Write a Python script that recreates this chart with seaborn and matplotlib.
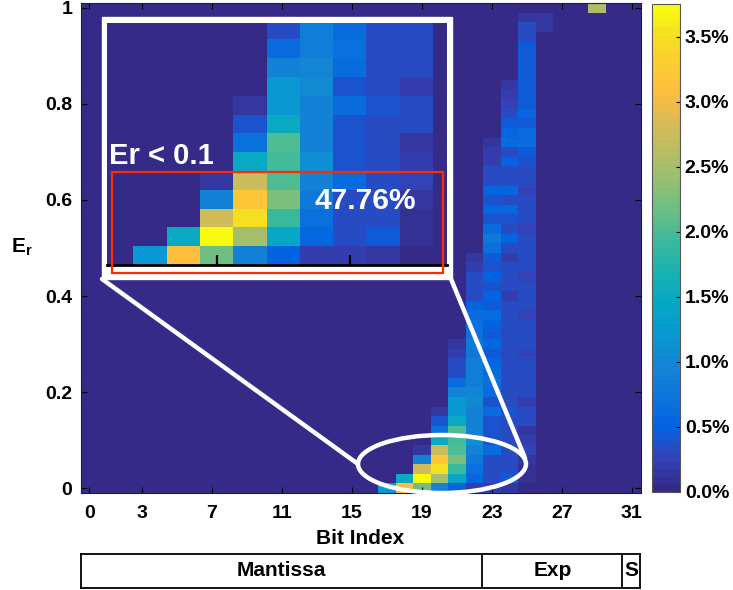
import numpy as np
import pandas as pd
import matplotlib
matplotlib.use('Agg')
import matplotlib.pyplot as plt
import seaborn as sns
from matplotlib.colors import LinearSegmentedColormap
from matplotlib.patches import Rectangle, Ellipse

# E_r bins (0 .. 1 step 0.02) and bit positions of a float32
er_bins = np.round(np.arange(0, 51) * 0.02, 2)
bits = list(range(32))

# percentage of samples per (bit, E_r bin); each list starts at the given row
bit17 = [1.2]
bit18 = [3.1, 1.5]
bit19 = [2.2, 3.75, 2.8, 0.9, 0.15]
bit20 = [0.9, 2.5, 3.5, 3.2, 2.75, 1.5, 0.7, 0.4, 0.15]
bit21 = [0.5, 1.45, 1.9, 2.25, 2.0, 1.95, 2.0, 1.5, 1.2, 1.2, 0.9, 0.6, 0.35, 0.3,
         0.2, 0.15]
bit22 = [0.2, 0.55, 0.65, 0.8, 0.9, 1.1, 0.9, 0.9, 0.9, 1.0, 0.95, 0.85, 0.85, 0.85,
         0.8, 0.8, 0.7, 0.65, 0.6, 0.5, 0.35, 0.35, 0.3, 0.2, 0.15]
bit23 = [0.2, 0.3, 0.3, 0.35, 0.6, 0.4, 0.4, 0.4, 0.6, 0.4, 0.6, 0.7, 0.6, 0.55,
         0.45, 0.55, 0.45, 0.5, 0.6, 0.45, 0.5, 0.4, 0.5, 0.4, 0.45, 0.7, 0.8, 0.6,
         0.4, 0.55, 0.4, 0.55, 0.35, 0.3, 0.2, 0.2, 0.15]
bit24 = [0.15, 0.45, 0.3, 0.3, 0.35, 0.3, 0.3, 0.35, 0.4, 0.3, 0.35, 0.35, 0.3, 0.3,
         0.35, 0.3, 0.3, 0.3, 0.3, 0.35, 0.2, 0.3, 0.3, 0.3, 0.2, 0.35, 0.5, 0.35,
         0.4, 0.55, 0.35, 0.55, 0.3, 0.35, 0.5, 0.3, 0.6, 0.55, 0.45, 0.35, 0.25,
         0.2, 0.15]
bit25 = [0.05, 0.08, 0.1, 0.15, 0.25, 0.2, 0.15, 0.3, 0.35, 0.2, 0.3, 0.3, 0.3, 0.3,
         0.25, 0.3, 0.3, 0.3, 0.25, 0.3, 0.3, 0.3, 0.25, 0.3, 0.35, 0.3, 0.3, 0.25,
         0.3, 0.35, 0.3, 0.25, 0.3, 0.35, 0.4, 0.45, 0.6, 0.6, 0.45, 0.55, 0.45,
         0.45, 0.45, 0.45, 0.45, 0.45, 0.45, 0.35, 0.3, 0.15]
bit26 = [0.15, 0.15]
bit29 = [2.55]

columns = {17: (0, bit17), 18: (0, bit18), 19: (0, bit19), 20: (0, bit20),
           21: (0, bit21), 22: (0, bit22), 23: (0, bit23), 24: (0, bit24),
           25: (0, bit25), 26: (48, bit26), 29: (50, bit29)}

grid = pd.DataFrame(0.0, index=er_bins, columns=bits)
for b, (start, vals) in columns.items():
    grid.iloc[start:start + len(vals), b] = vals

# MATLAB parula (sampled)
parula_pts = [(0.2081, 0.1663, 0.5292), (0.1959, 0.2645, 0.7279), (0.0117, 0.3875, 0.8820),
              (0.0498, 0.4586, 0.8641), (0.0793, 0.5200, 0.8312), (0.0343, 0.5966, 0.8199),
              (0.0228, 0.6535, 0.7768), (0.0843, 0.6928, 0.7062), (0.2178, 0.7250, 0.6193),
              (0.3953, 0.7459, 0.5244), (0.5709, 0.7485, 0.4494), (0.7184, 0.7411, 0.3905),
              (0.8507, 0.7299, 0.3360), (0.9938, 0.7455, 0.2403), (0.9880, 0.8066, 0.1794),
              (0.9589, 0.8949, 0.1132), (0.9763, 0.9831, 0.0538)]
pos = [i * 4 / 63 for i in range(16)] + [1.0]
parula = LinearSegmentedColormap.from_list('parula', list(zip(pos, parula_pts)), N=64)

plt.rcParams['font.family'] = ['Liberation Sans', 'DejaVu Sans']
plt.rcParams['font.weight'] = 'bold'
plt.rcParams['mathtext.fontset'] = 'custom'
plt.rcParams['mathtext.bf'] = 'Liberation Sans:bold'
plt.rcParams['mathtext.rm'] = 'Liberation Sans:bold'

W, H = 733, 590
fig = plt.figure(figsize=(W / 100, H / 100), dpi=100)


def box(x0, y0, x1, y1):
    return [x0 / W, 1 - y1 / H, (x1 - x0) / W, (y1 - y0) / H]


ax = fig.add_axes(box(80.5, 3, 640.5, 493))
cax = fig.add_axes(box(652, 4, 680, 492))
sns.heatmap(grid, ax=ax, cbar_ax=cax, cmap=parula, vmin=0, vmax=3.75,
            xticklabels=False, yticklabels=False)
ax.invert_yaxis()
for s in ax.spines.values():
    s.set_visible(True)
    s.set_color('#222222')
    s.set_linewidth(0.8)

xt = [0, 3, 7, 11, 15, 19, 23, 27, 31]
ax.set_xticks([b + 0.5 for b in xt])
ax.set_xticklabels([str(b) for b in xt])
ax.set_yticks([r + 0.5 for r in range(0, 51, 10)])
ax.set_yticklabels(['0', '0.2', '0.4', '0.6', '0.8', '1'], rotation=0)
ax.tick_params(direction='in', length=4, width=0.8, top=True, right=True,
               labelsize=14)
ax.tick_params(axis='x', pad=9)
ax.tick_params(axis='y', pad=6)
ax.set_xlabel('')
ax.set_ylabel('')
fig.text(360.5 / W, 1 - 538 / H, 'Bit Index', fontsize=15, ha='center', va='center')
fig.text(22 / W, 1 - 247 / H, r'$\mathbf{E_r}$', fontsize=15, ha='center', va='center')

cb = ax.collections[0].colorbar
ticks = [0, 0.5, 1.0, 1.5, 2.0, 2.5, 3.0, 3.5]
cb.set_ticks(ticks)
cb.set_ticklabels([f'{t:.1f}%' for t in ticks])
cax.tick_params(direction='in', length=3, width=0.8, labelsize=14)
cb.outline.set_edgecolor('#555555')
cb.outline.set_linewidth(0.8)

# field layout under the x axis
bax = fig.add_axes(box(80.5, 554, 640, 588))
bax.set_xlim(0, 31.97)
bax.set_ylim(0, 1)
bax.set_xticks([])
bax.set_yticks([])
for s in bax.spines.values():
    s.set_linewidth(1.3)
    s.set_color('black')
bax.axvline(22.96, color='black', lw=1.3)
bax.axvline(30.96, color='black', lw=1.3)
bax.text(11.5, 0.5, 'Mantissa', ha='center', va='center', fontsize=15)
bax.text(27, 0.5, 'Exp', ha='center', va='center', fontsize=15)
bax.text(31.46, 0.5, 'S', ha='center', va='center', fontsize=15)

# overlay in pixel coordinates: inset frame, connector lines, ellipse
ov = fig.add_axes([0, 0, 1, 1])
ov.set_xlim(0, W)
ov.set_ylim(H, 0)
ov.axis('off')
ov.patch.set_alpha(0)
ov.set_zorder(2)
ov.add_patch(Rectangle((102, 17), 350, 262, facecolor='white', edgecolor='white', lw=1))
ov.plot([102, 358], [279, 464], color='white', lw=3.2, solid_capstyle='round')
ov.plot([451, 525], [279, 458], color='white', lw=3.2, solid_capstyle='round')
ov.add_patch(Ellipse((442, 464), 168, 58, facecolor='none', edgecolor='white', lw=3.2))

# zoomed inset
ins = fig.add_axes(box(107, 23, 447, 265))
ins.set_zorder(3)
sns.heatmap(grid, ax=ins, cbar=False, cmap=parula, vmin=0, vmax=3.75,
            xticklabels=False, yticklabels=False)
ins.set_xlim(16.21, 26.42)
ins.set_ylim(0, 12.87)
for k, s in ins.spines.items():
    s.set_visible(k == 'bottom')
ins.spines['bottom'].set_linewidth(2)
ins.spines['bottom'].set_color('black')
ins.set_xticks([19.5, 23.5])
ins.set_xticklabels([])
ins.set_yticks([])
ins.tick_params(axis='x', direction='in', length=7, width=1.6, color='black')

ov2 = fig.add_axes([0, 0, 1, 1])
ov2.set_xlim(0, W)
ov2.set_ylim(H, 0)
ov2.axis('off')
ov2.patch.set_alpha(0)
ov2.set_zorder(4)
ov2.add_patch(Rectangle((112, 172), 331, 101, facecolor='none', edgecolor='#ff2a00', lw=1.6))
ov2.text(109, 156, 'Er < 0.1', color='white', fontsize=21, fontweight='bold',
         ha='left', va='center')
ov2.text(365, 201, '47.76%', color='white', fontsize=21.5, fontweight='bold',
         ha='center', va='center')

fig.savefig('out.png', dpi=100)
